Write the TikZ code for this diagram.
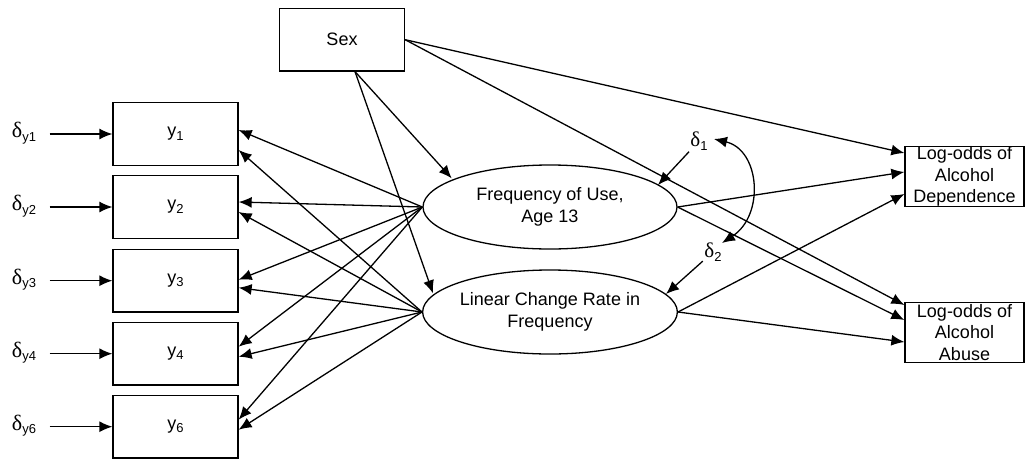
\documentclass[tikz,border=0pt]{standalone}
\usepackage{fontspec}
\setmainfont{Liberation Sans}
\newfontfamily\serifgr{Liberation Serif}
\usetikzlibrary{shapes.geometric,arrows.meta,calc}
\newcommand{\lowix}[1]{\raisebox{-0.35ex}{\fontsize{13}{13}\selectfont #1}}
\newcommand{\dlt}[1]{{\serifgr\fontsize{22}{22}\selectfont δ}\lowix{#1}}
\begin{document}
\begin{tikzpicture}[x=1pt,y=-1pt,
  font=\fontsize{18}{21.5}\selectfont,
  line width=1.3pt,
  arr/.style={-{Latex[length=13pt,width=11pt]}},
  darr/.style={{Latex[length=13pt,width=11pt]}-{Latex[length=13pt,width=11pt]}},
  obs/.style={draw, minimum width=125pt, minimum height=62.5pt, inner sep=0pt},
  lat/.style={draw, ellipse, minimum width=254pt, minimum height=84pt, inner sep=0pt, align=center},
  outc/.style={draw, minimum width=119pt, minimum height=60pt, inner sep=0pt, align=center},
  lab/.style={inner sep=1pt}]
\useasboundingbox (0,0) rectangle (1025,461);

% observed indicators
\node[obs] (y1) at (175.5,134) {y\lowix{1}};
\node[obs] (y2) at (175.5,207) {y\lowix{2}};
\node[obs] (y3) at (175.5,280.7) {y\lowix{3}};
\node[obs] (y4) at (175.5,353.7) {y\lowix{4}};
\node[obs] (y6) at (175.5,426.7) {y\lowix{6}};

% error labels
\node[lab] (dy1) at (24,133) {\dlt{y1}};
\node[lab] (dy2) at (24,206) {\dlt{y2}};
\node[lab] (dy3) at (24,279.7) {\dlt{y3}};
\node[lab] (dy4) at (24,352.7) {\dlt{y4}};
\node[lab] (dy6) at (24,425.7) {\dlt{y6}};
\foreach \n in {1,2,3,4,6}{
  \draw[arr] ($(dy\n.east |- y\n.west)+(12,0)$) -- (y\n.west);
}

% Sex
\node[obs] (sex) at (342,39.7) {Sex};

% latent factors
\node[lat] (e1) at (550,207) {Frequency of Use,\\Age 13};
\node[lat] (e2) at (550,312) {Linear Change Rate in\\Frequency};

% outcomes
\node[outc] (dep) at (964.5,176.5) {Log-odds of\\Alcohol\\Dependence};
\node[outc] (abu) at (964.5,332.5) {Log-odds of\\Alcohol\\Abuse};

% disturbances
\node[lab] (d1) at (699,141) {{\serifgr\fontsize{21}{21}\selectfont δ}\lowix{1}};
\node[lab] (d2) at (713,252) {{\serifgr\fontsize{21}{21}\selectfont δ}\lowix{2}};

% loadings
\draw[arr] (e1.west) -- ($(y1.east)+(0,-4)$);
\draw[arr] (e1.west) -- ($(y2.east)+(0,-5)$);
\draw[arr] (e1.west) -- ($(y3.east)+(0,-1)$);
\draw[arr] (e1.west) -- ($(y4.east)+(0,-7)$);
\draw[arr] (e1.west) -- ($(y6.east)+(0,-7)$);
\draw[arr] (e2.west) -- ($(y1.east)+(0,16)$);
\draw[arr] (e2.west) -- ($(y2.east)+(0,5)$);
\draw[arr] (e2.west) -- ($(y3.east)+(0,7)$);
\draw[arr] (e2.west) -- ($(y4.east)+(0,3)$);
\draw[arr] (e2.west) -- ($(y6.east)+(0,3)$);

% sex effects
\draw[arr] ($(sex.south)+(13,0)$) -- ($(e1)+(-98.3,-28.7)$);
\draw[arr] ($(sex.south)+(13,0)$) -- ($(e2)+(-117,-18.7)$);
\draw[arr] (sex.east) -- ($(dep.west)+(0,-23.5)$);
\draw[arr] (sex.east) -- ($(abu.west)+(0,-27.5)$);

% structural paths
\draw[arr] (e1.east) -- ($(dep.west)+(0,-4.5)$);
\draw[arr] (e1.east) -- ($(abu.west)+(0,-12.5)$);
\draw[arr] (e2.east) -- ($(dep.west)+(0,17.5)$);
\draw[arr] (e2.east) -- ($(abu.west)+(0,9.5)$);

% disturbance paths
\draw[arr] (d1) -- ($(e1)+(108,-22)$);
\draw[arr] (d2) -- ($(e2)+(116,-18)$);
\draw[darr] ($(d1)+(15,-2)$) .. controls (760,150) and (765,215) .. ($(d2)+(9,-9)$);
\end{tikzpicture}
\end{document}
